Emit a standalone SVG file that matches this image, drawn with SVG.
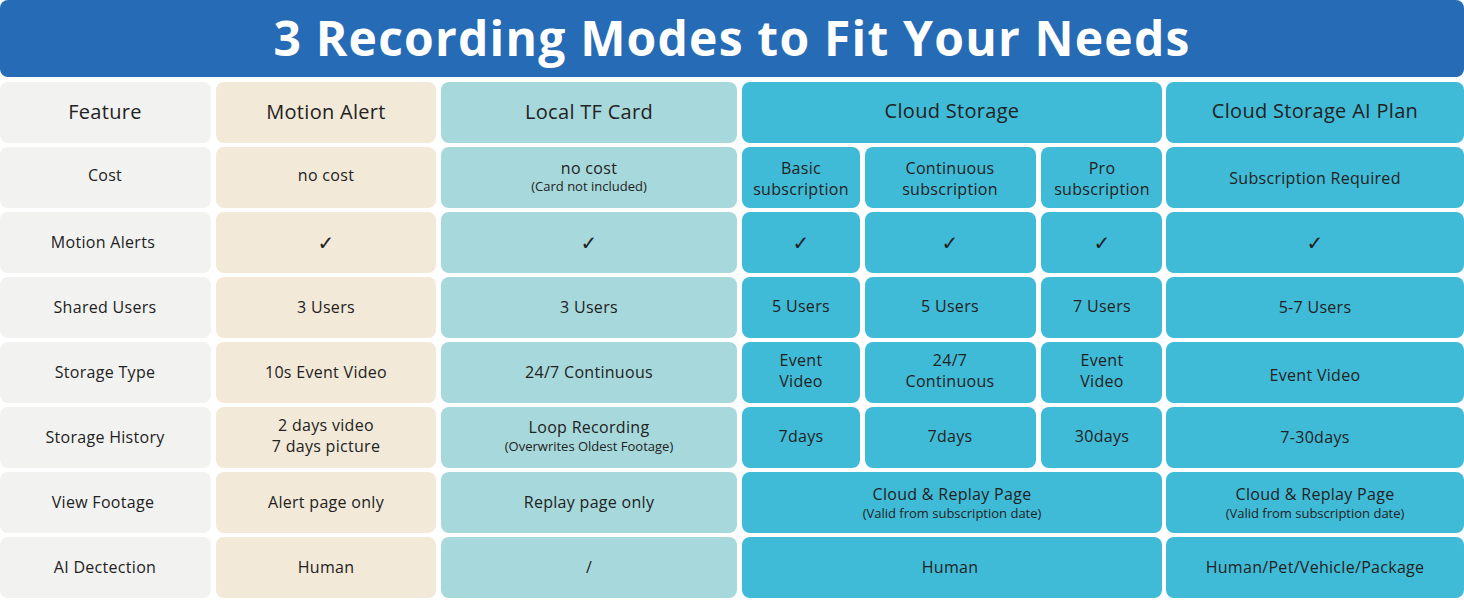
<svg xmlns="http://www.w3.org/2000/svg" width="1464" height="600" viewBox="0 0 1464 600">
<style>
text{font-family:"Open Sans","Liberation Sans",sans-serif;fill:#222;text-anchor:middle;font-size:16px;letter-spacing:0.3px}
.h{font-size:20px;font-weight:500}
.s{font-size:13px;letter-spacing:0}
.k{font-family:"DejaVu Sans",sans-serif;font-size:20px}
.t{font-size:48px;font-weight:700;fill:#fff;letter-spacing:1.2px}
.f{fill:#f2f2f1}.m{fill:#f2e9d8}.l{fill:#a7d8db}.c{fill:#3fbbd7}
rect{rx:8px}
</style>
<rect x="0" y="0" width="1464" height="77" fill="#266bb6"/>
<text class="t" x="732" y="56">3 Recording Modes to Fit Your Needs</text>
<g id="header">
<rect class="f" x="0" y="82" width="211" height="61"/><text class="h" x="105" y="119">Feature</text>
<rect class="m" x="216" y="82" width="220" height="61"/><text class="h" x="326" y="119">Motion Alert</text>
<rect class="l" x="441" y="82" width="296" height="61"/><text class="h" x="589" y="119">Local TF Card</text>
<rect class="c" x="742" y="82" width="420" height="61"/><text class="h" x="952" y="118">Cloud Storage</text>
<rect class="c" x="1166" y="82" width="298" height="61"/><text class="h" x="1315" y="118">Cloud Storage AI Plan</text>
</g>
<g id="cost">
<rect class="f" x="0" y="147" width="211" height="61"/><text x="105" y="181">Cost</text>
<rect class="m" x="216" y="147" width="220" height="61"/><text x="326" y="181">no cost</text>
<rect class="l" x="441" y="147" width="296" height="61"/><text x="589" y="174">no cost</text><text class="s" x="589" y="191">(Card not included)</text>
<rect class="c" x="742" y="147" width="118" height="61"/><text x="801" y="174">Basic</text><text x="801" y="195">subscription</text>
<rect class="c" x="865" y="147" width="171" height="61"/><text x="950" y="174">Continuous</text><text x="950" y="195">subscription</text>
<rect class="c" x="1041" y="147" width="121" height="61"/><text x="1102" y="174">Pro</text><text x="1102" y="195">subscription</text>
<rect class="c" x="1166" y="147" width="298" height="61"/><text x="1315" y="184">Subscription Required</text>
</g>
<g id="alerts">
<rect class="f" x="0" y="212" width="211" height="61"/><text x="103" y="248">Motion Alerts</text>
<rect class="m" x="216" y="212" width="220" height="61"/><text class="k" x="326" y="250">✓</text>
<rect class="l" x="441" y="212" width="296" height="61"/><text class="k" x="589" y="250">✓</text>
<rect class="c" x="742" y="212" width="118" height="61"/><text class="k" x="801" y="250">✓</text>
<rect class="c" x="865" y="212" width="171" height="61"/><text class="k" x="950" y="250">✓</text>
<rect class="c" x="1041" y="212" width="121" height="61"/><text class="k" x="1102" y="250">✓</text>
<rect class="c" x="1166" y="212" width="298" height="61"/><text class="k" x="1315" y="250">✓</text>
</g>
<g id="users">
<rect class="f" x="0" y="277" width="211" height="61"/><text x="105" y="313">Shared Users</text>
<rect class="m" x="216" y="277" width="220" height="61"/><text x="326" y="313">3 Users</text>
<rect class="l" x="441" y="277" width="296" height="61"/><text x="589" y="313">3 Users</text>
<rect class="c" x="742" y="277" width="118" height="61"/><text x="801" y="312">5 Users</text>
<rect class="c" x="865" y="277" width="171" height="61"/><text x="950" y="312">5 Users</text>
<rect class="c" x="1041" y="277" width="121" height="61"/><text x="1102" y="312">7 Users</text>
<rect class="c" x="1166" y="277" width="298" height="61"/><text x="1315" y="313">5-7 Users</text>
</g>
<g id="type">
<rect class="f" x="0" y="342" width="211" height="61"/><text x="105" y="378">Storage Type</text>
<rect class="m" x="216" y="342" width="220" height="61"/><text x="326" y="378">10s Event Video</text>
<rect class="l" x="441" y="342" width="296" height="61"/><text x="589" y="378">24/7 Continuous</text>
<rect class="c" x="742" y="342" width="118" height="61"/><text x="801" y="366">Event</text><text x="801" y="387">Video</text>
<rect class="c" x="865" y="342" width="171" height="61"/><text x="950" y="366">24/7</text><text x="950" y="387">Continuous</text>
<rect class="c" x="1041" y="342" width="121" height="61"/><text x="1102" y="366">Event</text><text x="1102" y="387">Video</text>
<rect class="c" x="1166" y="342" width="298" height="61"/><text x="1315" y="381">Event Video</text>
</g>
<g id="history">
<rect class="f" x="0" y="407" width="211" height="61"/><text x="105" y="443">Storage History</text>
<rect class="m" x="216" y="407" width="220" height="61"/><text x="326" y="431">2 days video</text><text x="326" y="452">7 days picture</text>
<rect class="l" x="441" y="407" width="296" height="61"/><text x="589" y="433">Loop Recording</text><text class="s" x="589" y="451">(Overwrites Oldest Footage)</text>
<rect class="c" x="742" y="407" width="118" height="61"/><text x="801" y="442">7days</text>
<rect class="c" x="865" y="407" width="171" height="61"/><text x="950" y="442">7days</text>
<rect class="c" x="1041" y="407" width="121" height="61"/><text x="1102" y="442">30days</text>
<rect class="c" x="1166" y="407" width="298" height="61"/><text x="1315" y="443">7-30days</text>
</g>
<g id="view">
<rect class="f" x="0" y="472" width="211" height="61"/><text x="103" y="508">View Footage</text>
<rect class="m" x="216" y="472" width="220" height="61"/><text x="326" y="508">Alert page only</text>
<rect class="l" x="441" y="472" width="296" height="61"/><text x="589" y="508">Replay page only</text>
<rect class="c" x="742" y="472" width="420" height="61"/><text x="952" y="500">Cloud &amp; Replay Page</text><text class="s" x="952" y="518">(Valid from subscription date)</text>
<rect class="c" x="1166" y="472" width="298" height="61"/><text x="1315" y="500">Cloud &amp; Replay Page</text><text class="s" x="1315" y="518">(Valid from subscription date)</text>
</g>
<g id="ai">
<rect class="f" x="0" y="537" width="211" height="61"/><text x="105" y="573">AI Dectection</text>
<rect class="m" x="216" y="537" width="220" height="61"/><text x="326" y="573">Human</text>
<rect class="l" x="441" y="537" width="296" height="61"/><text x="589" y="573">/</text>
<rect class="c" x="742" y="537" width="420" height="61"/><text x="950" y="573">Human</text>
<rect class="c" x="1166" y="537" width="298" height="61"/><text x="1315" y="573">Human/Pet/Vehicle/Package</text>
</g>
<g id="connectors"/>
</svg>
